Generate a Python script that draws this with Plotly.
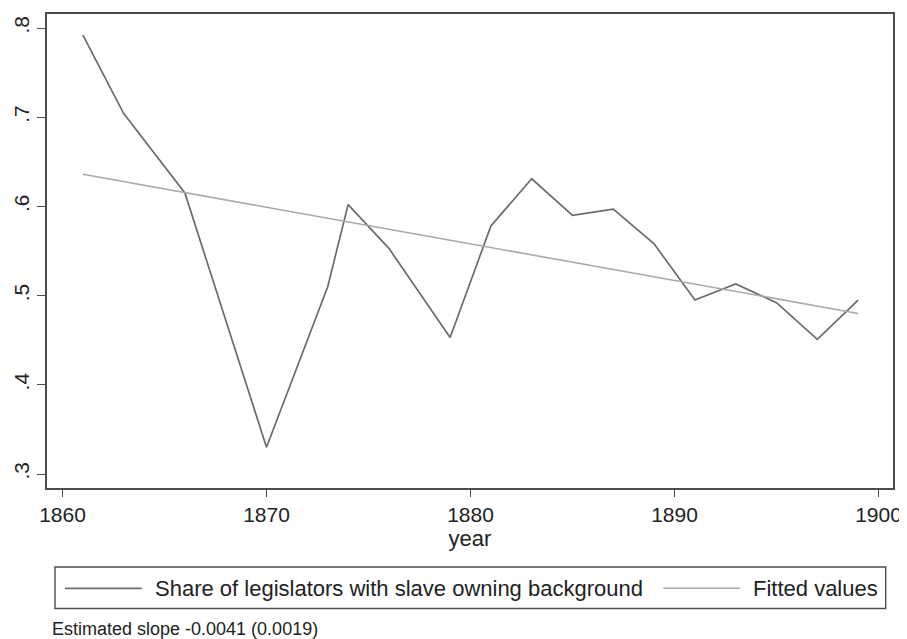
import plotly.graph_objects as go

years = [1861, 1863, 1866, 1870, 1873, 1874, 1876, 1879, 1881, 1883, 1885,
         1887, 1889, 1891, 1893, 1895, 1897, 1899]
share = [0.792, 0.704, 0.615, 0.330, 0.510, 0.602, 0.553, 0.453, 0.578, 0.631,
         0.590, 0.597, 0.558, 0.495, 0.513, 0.492, 0.451, 0.495]
fit_years = [1861, 1899]
fit_values = [0.636, 0.480]

x_ticks = [1860, 1870, 1880, 1890, 1900]
y_ticks = [0.3, 0.4, 0.5, 0.6, 0.7, 0.8]
y_ticklabels = [".3", ".4", ".5", ".6", ".7", ".8"]

series_name = "Share of legislators with slave owning background"
fit_name = "Fitted values"
note_text = "Estimated slope -0.0041 (0.0019)"

DATA_COLOR = "#6b6b6b"
FIT_COLOR = "#a9a9a9"
FRAME = "#4d4d4d"
FONT = "Liberation Sans, Arial, Helvetica, sans-serif"

fig = go.Figure()
fig.add_trace(go.Scatter(x=years, y=share, mode="lines", name=series_name,
                         line=dict(color=DATA_COLOR, width=1.7), showlegend=False))
fig.add_trace(go.Scatter(x=fit_years, y=fit_values, mode="lines", name=fit_name,
                         line=dict(color=FIT_COLOR, width=1.6), showlegend=False))

# page body has an 8px margin, so the figure is 8px smaller and offset
OFF = 8
W, H = 907 - OFF, 639 - OFF
# plot frame in screen pixels: x 47..893, y 14..488
L, R, T, B = 47 - OFF, 907 - 893, 14 - OFF, 639 - 488
pw, ph = W - L - R, H - T - B


def px(xs):
    return (xs - OFF - L) / pw


def py(ys):
    return (H - B - (ys - OFF)) / ph


shapes = [
    dict(type="rect", xref="paper", yref="paper", x0=px(55), x1=px(885.7),
         y0=py(608.5), y1=py(567), line=dict(color=FRAME, width=1.4)),
    dict(type="line", xref="paper", yref="paper", x0=px(65), x1=px(141.7),
         y0=py(588.3), y1=py(588.3), line=dict(color=DATA_COLOR, width=1.7)),
    dict(type="line", xref="paper", yref="paper", x0=px(663.3), x1=px(740),
         y0=py(588.3), y1=py(588.3), line=dict(color=FIT_COLOR, width=1.6)),
]
annotations = [
    dict(xref="paper", yref="paper", x=px(153), y=py(588.5), xanchor="left",
         yanchor="middle", text=series_name, showarrow=False,
         font=dict(size=22, color="#222", family=FONT)),
    dict(xref="paper", yref="paper", x=px(751), y=py(588.5), xanchor="left",
         yanchor="middle", text=fit_name, showarrow=False,
         font=dict(size=22, color="#222", family=FONT)),
    dict(xref="paper", yref="paper", x=px(50), y=py(629), xanchor="left",
         yanchor="middle", text=note_text, showarrow=False,
         font=dict(size=18, color="#222", family=FONT)),
]

fig.update_layout(
    width=W, height=H,
    margin=dict(l=L, r=R, t=T, b=B, pad=0, autoexpand=False),
    paper_bgcolor="white", plot_bgcolor="white",
    font=dict(family=FONT, color="#222"),
    shapes=shapes, annotations=annotations,
    showlegend=False,
)
fig.update_xaxes(
    range=[1859.24, 1900.71], tickvals=x_ticks, ticks="outside", ticklen=7,
    tickwidth=1.4, tickcolor=FRAME, showline=True, linecolor=FRAME, linewidth=1.6,
    mirror=True, showgrid=False, zeroline=False, tickfont=dict(size=21),
    title=dict(text="year", font=dict(size=22), standoff=5), automargin=False,
)
fig.update_yaxes(
    range=[0.2843, 0.8157], tickvals=y_ticks, ticktext=y_ticklabels,
    tickangle=-90, ticks="outside", ticklen=8, tickwidth=1.4, tickcolor=FRAME,
    showline=True, linecolor=FRAME, linewidth=1.6, mirror=True, showgrid=False,
    zeroline=False, tickfont=dict(size=21), automargin=False,
)

fig.write_html("out.html")
